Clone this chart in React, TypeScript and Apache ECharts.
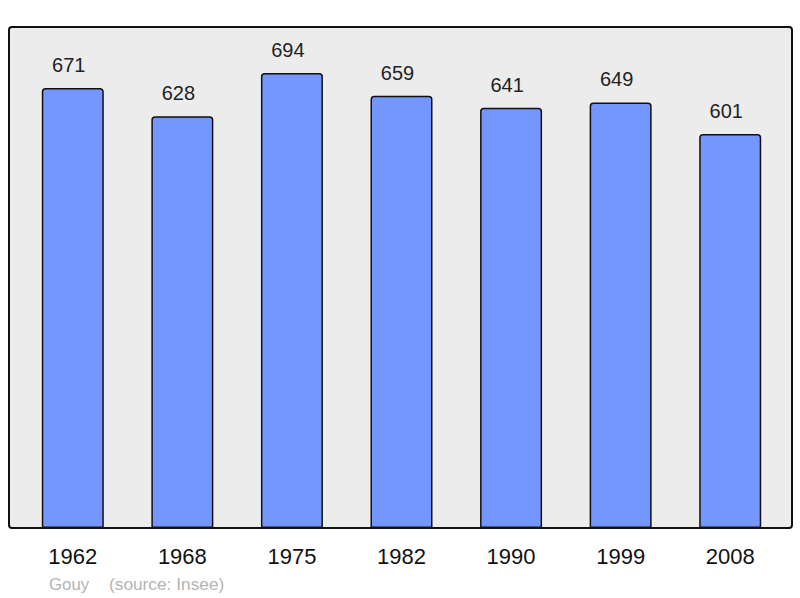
import * as echarts from 'echarts';
import { useEffect, useRef } from 'react';

const years = ['1962', '1968', '1975', '1982', '1990', '1999', '2008'];
const population = [671, 628, 694, 659, 641, 649, 601];

const FONT = 'Liberation Sans, Arial, sans-serif';

const App = () => {
  const chartRef = useRef<HTMLDivElement>(null);

  useEffect(() => {
    if (!chartRef.current) return;
    const chart = echarts.init(chartRef.current, null, { renderer: 'svg' });
    chart.setOption({
      animation: false,
      backgroundColor: '#ffffff',
      textStyle: { fontFamily: FONT },
      graphic: [
        {
          type: 'rect',
          z: -10,
          shape: { x: 9, y: 27, width: 783, height: 501, r: 3 },
          style: { fill: '#ececec', stroke: '#111', lineWidth: 2 },
        },
        {
          type: 'text',
          x: 49,
          y: 584,
          style: {
            text: 'Gouy',
            fill: '#b4b4b4',
            fontSize: 16.8,
            fontFamily: FONT,
            verticalAlign: 'middle',
          },
        },
        {
          type: 'text',
          x: 109,
          y: 584,
          style: {
            text: '(source: Insee)',
            fill: '#b4b4b4',
            fontSize: 17.3,
            fontFamily: FONT,
            verticalAlign: 'middle',
          },
        },
      ],
      grid: { left: 18, right: 15, top: 27, bottom: 70 },
      xAxis: {
        type: 'category',
        data: years,
        axisLine: { show: false },
        axisTick: { show: false },
        axisLabel: { color: '#111', fontSize: 22, margin: 17 },
      },
      yAxis: {
        type: 'value',
        min: 0,
        max: 764,
        show: false,
        splitLine: { show: false },
      },
      series: [
        {
          type: 'bar',
          data: population,
          barWidth: 62,
          itemStyle: {
            color: '#7396ff',
            borderColor: '#111',
            borderWidth: 1.5,
            borderRadius: [3, 3, 0, 0],
          },
          label: {
            show: true,
            position: 'top',
            distance: 13,
            offset: [-4, 0],
            color: '#222',
            fontSize: 20,
          },
        },
      ],
    });
    return () => chart.dispose();
  }, []);

  return (
    <div
      ref={chartRef}
      style={{ position: 'absolute', left: 0, top: 0, width: 800, height: 598 }}
    />
  );
};

export default App;
